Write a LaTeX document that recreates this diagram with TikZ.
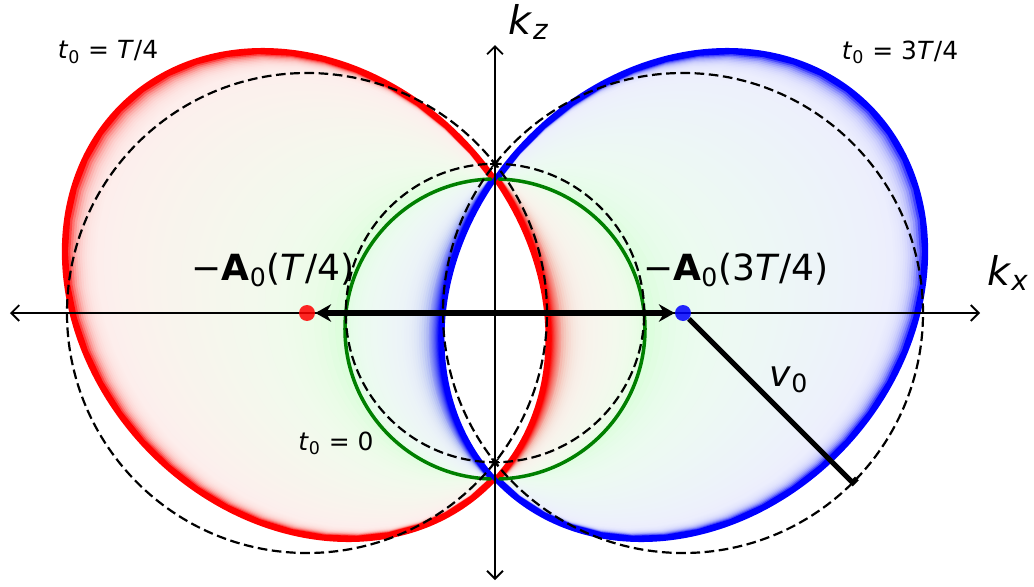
\documentclass[tikz,border=0pt]{standalone}
\usepackage{fontspec}
\setmainfont{DejaVu Sans}
\usepackage{xcolor}
\usepackage{tikz}
\usetikzlibrary{arrows.meta,calc}

\begin{document}
\begin{tikzpicture}[
    x=0.02cm, y=0.02cm,
    declare function={
      mapang(\t)=(\t<=270)*(28.26+(\t-90)*1.57256)+(\t>270)*(311.32+(\t-270)*0.42744);
      rx(\p)=-189.3+238*cos(\p)-42.9*sin(\p);
      ry(\p)=18+245*sin(\p);
      gx(\t)=150*cos(\t);
      gy(\t)=-16+150*sin(\t);},
    sweep/.style={line width=4.6pt, line join=round, line cap=round},
    curve/.style={line width=2.3pt},
    dashcirc/.style={dash pattern=on 5.5pt off 2.6pt, line width=1.25pt},
    axisarr/.style={{Straight Barb[length=4.5pt,width=9pt]}-{Straight Barb[length=4.5pt,width=9pt]}, line width=1.1pt},
    thickarr/.style={-{Stealth[length=9pt,width=10pt,inset=3pt]}, line width=3.1pt},
    vline/.style={line width=3pt, line join=miter},
    dot/.style={circle, inner sep=0pt, minimum size=9.1pt, opacity=0.85},
    small/.style={inner sep=0pt, font=\fontsize{14.2}{17}\selectfont},
    big/.style={inner sep=0pt, font=\fontsize{20.5}{24}\selectfont},
    huge/.style={inner sep=0pt, font=\fontsize{22.5}{27}\selectfont}]
\useasboundingbox (-495,-273) rectangle (539,313);
\coordinate (O) at (0,0);
\coordinate (rc) at (-188,0);
\coordinate (bc) at (188,0);
\coordinate (xl) at (-485,0);
\coordinate (xr) at (485,0);
\coordinate (zt) at (0,268);
\coordinate (zb) at (0,-267);
\coordinate (vend) at (357.7,-169.7);
\coordinate (mt) at (0,149.2);
\coordinate (mb) at (0,-149.2);

\foreach \k in {0,...,72}{
  \pgfmathsetmacro\th{90+5*\k}
  \pgfmathsetmacro\ph{mapang(\th)}
  \pgfmathsetmacro\gxv{gx(\th)}
  \pgfmathsetmacro\gyv{gy(\th)}
  \pgfmathsetmacro\rxv{rx(\ph)}
  \pgfmathsetmacro\ryv{ry(\ph)}
  \coordinate (g\k) at (\gxv,\gyv);
  \coordinate (r\k) at (\rxv,\ryv);
  \coordinate (h\k) at (-\gxv,\gyv);
  \coordinate (b\k) at (-\rxv,\ryv);
}

\begin{scope}[even odd rule]
\clip plot[domain=0:357.5, samples=144, smooth cycle] ({rx(\x)},{ry(\x)})
  (0,-16) circle (150);
\foreach \i in {0,...,48}{
  \pgfmathsetmacro\sv{(\i<=36)*\i/40+(\i>36)*(0.9+(\i-36)/120)}
  \pgfmathsetmacro\pc{100*\sv}
  \pgfmathsetmacro\wo{min(100,7+93*\sv^40+8*(1-\sv)^10)}
  \pgfmathsetmacro\wi{min(100,7+93*\sv^10+8*(1-\sv)^10)}
  \colorlet{rbase}{red!\pc!green}
  \colorlet{rout}{rbase!\wo!white}
  \colorlet{rin}{rbase!\wi!white}
  \draw[sweep, rout] ($(g0)!\sv!(r0)$) foreach \k in {1,...,36}{ -- ($(g\k)!\sv!(r\k)$)};
  \draw[sweep, rin] ($(g36)!\sv!(r36)$) foreach \k in {37,...,72}{ -- ($(g\k)!\sv!(r\k)$)};
}
\end{scope}
\begin{scope}[even odd rule]
\clip plot[domain=0:357.5, samples=144, smooth cycle] ({-rx(\x)},{ry(\x)})
  (0,-16) circle (150);
\foreach \i in {0,...,48}{
  \pgfmathsetmacro\sv{(\i<=36)*\i/40+(\i>36)*(0.9+(\i-36)/120)}
  \pgfmathsetmacro\pc{100*\sv}
  \pgfmathsetmacro\wo{min(100,7+93*\sv^40+8*(1-\sv)^10)}
  \pgfmathsetmacro\wi{min(100,7+93*\sv^10+8*(1-\sv)^10)}
  \colorlet{bbase}{blue!\pc!green}
  \colorlet{bout}{bbase!\wo!white}
  \colorlet{bin}{bbase!\wi!white}
  \draw[sweep, bout] ($(h0)!\sv!(b0)$) foreach \k in {1,...,36}{ -- ($(h\k)!\sv!(b\k)$)};
  \draw[sweep, bin] ($(h36)!\sv!(b36)$) foreach \k in {37,...,72}{ -- ($(h\k)!\sv!(b\k)$)};
}
\end{scope}

\draw[curve, green!50!black, line width=2pt] (0,-16) circle (150);
\draw[curve, red] plot[domain=0:357.5, samples=144, smooth cycle] ({rx(\x)},{ry(\x)});
\draw[curve, blue] plot[domain=0:357.5, samples=144, smooth cycle] ({-rx(\x)},{ry(\x)});

\draw[dashcirc] (O) circle (149.2);
\draw[dashcirc] (rc) circle (240);
\draw[dashcirc] (bc) circle (240);
\foreach \m in {mt,mb}
  \foreach \a in {0,45,90,135}
    \draw[line width=0.8pt] (\m) ++(\a:5) -- ++(\a+180:10);

\draw[axisarr] (xl) -- (xr);
\draw[axisarr] (zb) -- (zt);

\node[dot, fill=red] (rdot) at (rc) {};
\node[dot, fill=blue] (bdot) at (bc) {};
\draw[thickarr] (O) -- (rdot);
\draw[thickarr] (O) -- (bdot);
\draw[vline] (bdot) -- (vend) -- ++(45:6);

\node[huge] (kz) at (34,291) {\textit{k}\textsubscript{\textit{z}}};
\node[huge] (kx) at (513,40) {\textit{k}\textsubscript{\textit{x}}};
\node[small] (tl) at (-387,261) {\textit{t}\textsubscript{0} = \textit{T}/4};
\node[small] (tr) at (405,261) {\textit{t}\textsubscript{0} = 3\textit{T}/4};
\node[small] (tz) at (-159,-130) {\textit{t}\textsubscript{0} = 0};
\node[big] (al) at (-222,43) {−\textbf{A}\textsubscript{0}(\textit{T}/4)};
\node[big] (ar) at (241,43) {−\textbf{A}\textsubscript{0}(3\textit{T}/4)};
\node[big] (v0) at (294,-67) {\textit{v}\textsubscript{0}};
\end{tikzpicture}
\end{document}
